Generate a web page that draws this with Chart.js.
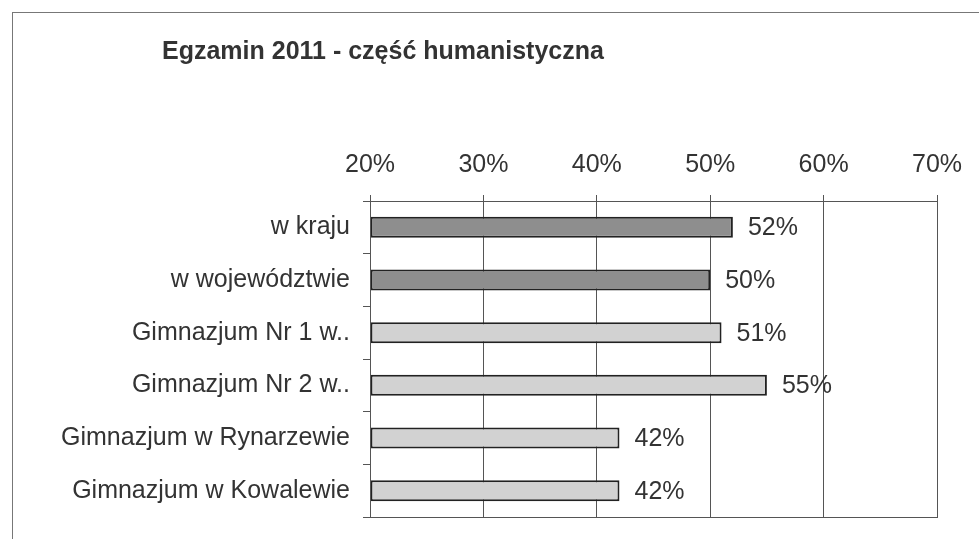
<!DOCTYPE html>
<html>
<head>
<meta charset="utf-8">
<script src="https://cdn.jsdelivr.net/npm/chart.js@4/dist/chart.umd.min.js"></script>
<style>
    html, body { margin: 0; padding: 0; background: #fff; overflow: hidden; }
    #wrap { position: relative; width: 979px; height: 539px; }
    #frame {
        position: absolute; left: 12px; top: 12px;
        width: 1100px; height: 700px;
        border: 1px solid #777;
    }
    canvas { position: absolute; left: 0; top: 0; }
</style>
</head>
<body>
<div id="wrap">
    <div id="frame"></div>
    <canvas id="chart" width="979" height="539"></canvas>
</div>
<script>
const TITLE = 'Egzamin 2011 - część humanistyczna';
const categories = [
    'w kraju',
    'w województwie',
    'Gimnazjum Nr 1 w..',
    'Gimnazjum Nr 2 w..',
    'Gimnazjum w Rynarzewie',
    'Gimnazjum w Kowalewie'
];
const scores = [52, 50, 51, 55, 42, 42];
const barColors = ['#8e8e8e', '#8e8e8e', '#d2d2d2', '#d2d2d2', '#d2d2d2', '#d2d2d2'];
const axisMin = 20;
const axisMax = 70;
const axisStep = 10;

const FONT = '"Liberation Sans", Arial, sans-serif';
const TEXT = '#333';
const LINE = '#555';

// chart title sits left of the plot, over the category labels
const titleText = {
    id: 'titleText',
    afterDraw(chart) {
        const ctx = chart.ctx;
        ctx.save();
        ctx.font = 'bold 25px ' + FONT;
        ctx.fillStyle = TEXT;
        ctx.textAlign = 'left';
        ctx.textBaseline = 'alphabetic';
        ctx.fillText(TITLE, 162, 59);
        ctx.restore();
    }
};

// value labels to the right of each bar
const valueLabels = {
    id: 'valueLabels',
    afterDatasetsDraw(chart) {
        const ctx = chart.ctx;
        const meta = chart.getDatasetMeta(0);
        ctx.save();
        ctx.font = '25px ' + FONT;
        ctx.fillStyle = TEXT;
        ctx.textAlign = 'left';
        ctx.textBaseline = 'middle';
        meta.data.forEach((bar, i) => {
            ctx.fillText(scores[i] + '%', bar.x + 15, bar.y + 1);
        });
        ctx.restore();
    }
};

// closes the plot box (bottom and right edges)
const plotFrame = {
    id: 'plotFrame',
    afterDraw(chart) {
        const a = chart.chartArea;
        const ctx = chart.ctx;
        ctx.save();
        ctx.strokeStyle = LINE;
        ctx.lineWidth = 1;
        ctx.strokeRect(Math.round(a.left) + 0.5, Math.round(a.top) + 0.5,
            Math.round(a.right - a.left), Math.round(a.bottom - a.top));
        ctx.restore();
    }
};

new Chart(document.getElementById('chart'), {
    type: 'bar',
    data: {
        labels: categories,
        datasets: [{
            data: scores,
            base: axisMin,
            backgroundColor: barColors,
            borderColor: '#222',
            borderWidth: 2,
            borderSkipped: false,
            barPercentage: 0.4,
            categoryPercentage: 1
        }]
    },
    options: {
        indexAxis: 'y',
        responsive: false,
        animation: false,
        layout: {
            padding: { left: 12, right: 42, top: 135, bottom: 22 }
        },
        scales: {
            x: {
                position: 'top',
                min: axisMin,
                max: axisMax,
                ticks: {
                    stepSize: axisStep,
                    padding: 15,
                    color: TEXT,
                    font: { family: FONT, size: 25 },
                    callback: v => v + '%'
                },
                grid: { color: LINE, lineWidth: 1, tickLength: 6 },
                border: { color: LINE }
            },
            y: {
                afterFit(scale) {
                    scale.width = 358;
                    scale.paddingTop = 0;
                    scale.paddingBottom = 0;
                },
                ticks: {
                    padding: 13,
                    color: TEXT,
                    font: { family: FONT, size: 25 }
                },
                grid: { drawOnChartArea: false, color: LINE, tickLength: 7 },
                border: { color: LINE }
            }
        },
        plugins: {
            legend: { display: false },
            tooltip: { enabled: false },
            title: { display: false }
        }
    },
    plugins: [valueLabels, plotFrame, titleText]
});
</script>
</body>
</html>
